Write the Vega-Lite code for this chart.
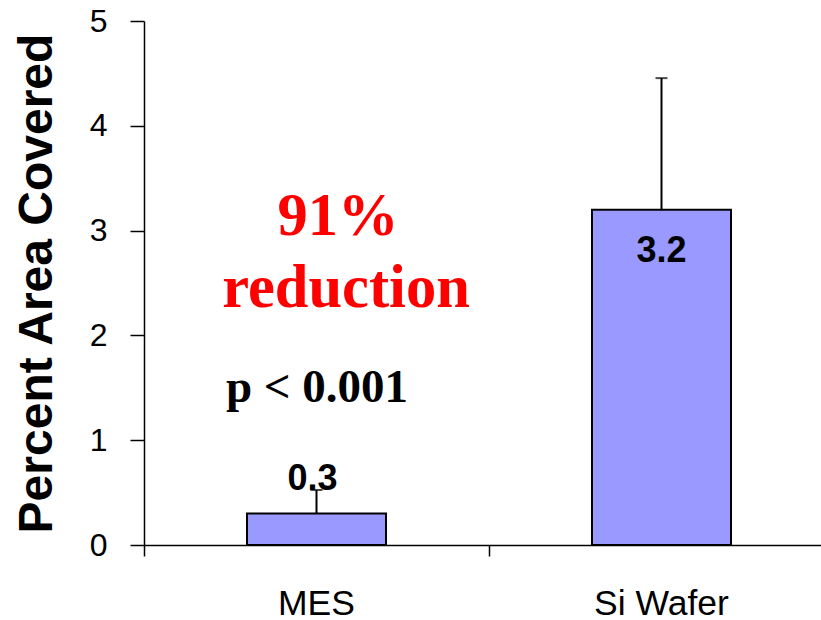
{
  "$schema": "https://vega.github.io/schema/vega-lite/v6.json",
  "width": 677,
  "height": 524,
  "autosize": {"type": "none"},
  "padding": {"left": 144, "top": 21, "right": 0, "bottom": 75},
  "config": {"view": {"stroke": null}, "font": "Liberation Sans"},
  "datasets": {
    "bars": [
      {"group": "MES", "value": 0.3, "upper": 0.525},
      {"group": "Si Wafer", "value": 3.2, "upper": 4.455}
    ],
    "notes": [
      {"group": "MES", "y": 2.958, "text": "91%"},
      {"group": "MES", "y": 2.271, "text": "reduction"},
      {"group": "MES", "y": 1.364, "text": "p < 0.001"}
    ]
  },
  "encoding": {
    "x": {
      "field": "group", "type": "nominal", "sort": ["MES", "Si Wafer"],
      "scale": {"type": "band", "range": [0, 690], "paddingInner": 0, "paddingOuter": 0},
      "axis": {
        "title": null, "labelAngle": 0, "bandPosition": 0,
        "labelFont": "Liberation Sans", "labelFontSize": 35.5, "labelColor": "black",
        "labelBaseline": "alphabetic", "labelPadding": 58,
        "tickSize": 11, "tickColor": "black", "tickWidth": 1.5,
        "domainColor": "black", "domainWidth": 1.5, "grid": false
      }
    }
  },
  "layer": [
    {
      "data": {"name": "bars"},
      "mark": {"type": "rule", "color": "black", "strokeWidth": 2},
      "encoding": {
        "y": {"field": "value", "type": "quantitative"},
        "y2": {"field": "upper"}
      }
    },
    {
      "data": {"name": "bars"},
      "mark": {"type": "tick", "color": "black", "thickness": 2, "size": 12},
      "encoding": {
        "y": {"field": "upper", "type": "quantitative"}
      }
    },
    {
      "data": {"name": "bars"},
      "mark": {"type": "bar", "fill": "#9999ff", "stroke": "black", "strokeWidth": 2, "width": 139},
      "encoding": {
        "y": {
          "field": "value", "type": "quantitative",
          "scale": {"domain": [0, 5], "nice": false, "zero": true},
          "axis": {
            "title": "Percent Area Covered", "values": [0, 1, 2, 3, 4, 5], "format": "d",
            "grid": false, "labelFont": "Liberation Sans", "labelFontSize": 32,
            "labelColor": "black", "labelPadding": 23, "labelFlush": false,
            "tickSize": 14, "tickColor": "black", "tickWidth": 1.5,
            "domainColor": "black", "domainWidth": 1.5,
            "titleFont": "Liberation Sans", "titleFontSize": 48, "titleFontWeight": "bold",
            "titleColor": "black", "titleAngle": -90, "titleBaseline": "alphabetic",
            "titleAlign": "center", "titleX": -93, "titleY": 262
          }
        }
      }
    },
    {
      "data": {"name": "bars"},
      "transform": [{"filter": "datum.group === 'MES'"}],
      "mark": {"type": "text", "font": "Liberation Sans", "fontWeight": "bold", "fontSize": 36, "color": "black", "baseline": "alphabetic", "dx": -4, "dy": -24},
      "encoding": {
        "y": {"field": "value", "type": "quantitative"},
        "text": {"field": "value", "type": "quantitative", "format": ".1f"}
      }
    },
    {
      "data": {"name": "bars"},
      "transform": [{"filter": "datum.group === 'Si Wafer'"}],
      "mark": {"type": "text", "font": "Liberation Sans", "fontWeight": "bold", "fontSize": 36, "color": "black", "baseline": "alphabetic", "dy": 52},
      "encoding": {
        "y": {"field": "value", "type": "quantitative"},
        "text": {"field": "value", "type": "quantitative", "format": ".1f"}
      }
    },
    {
      "data": {"name": "notes"},
      "transform": [{"filter": "datum.text === '91%'"}],
      "mark": {"type": "text", "font": "Liberation Serif", "fontWeight": "bold", "fontSize": 60.5, "color": "#ff0000", "baseline": "alphabetic", "dx": 21.5},
      "encoding": {
        "y": {"field": "y", "type": "quantitative"},
        "text": {"field": "text"}
      }
    },
    {
      "data": {"name": "notes"},
      "transform": [{"filter": "datum.text === 'reduction'"}],
      "mark": {"type": "text", "font": "Liberation Serif", "fontWeight": "bold", "fontSize": 60.5, "color": "#ff0000", "baseline": "alphabetic", "dx": 29.5},
      "encoding": {
        "y": {"field": "y", "type": "quantitative"},
        "text": {"field": "text"}
      }
    },
    {
      "data": {"name": "notes"},
      "transform": [{"filter": "datum.text === 'p < 0.001'"}],
      "mark": {"type": "text", "font": "Liberation Serif", "fontWeight": "bold", "fontSize": 47, "color": "black", "baseline": "alphabetic", "dx": 0.5},
      "encoding": {
        "y": {"field": "y", "type": "quantitative"},
        "text": {"field": "text"}
      }
    }
  ]
}
